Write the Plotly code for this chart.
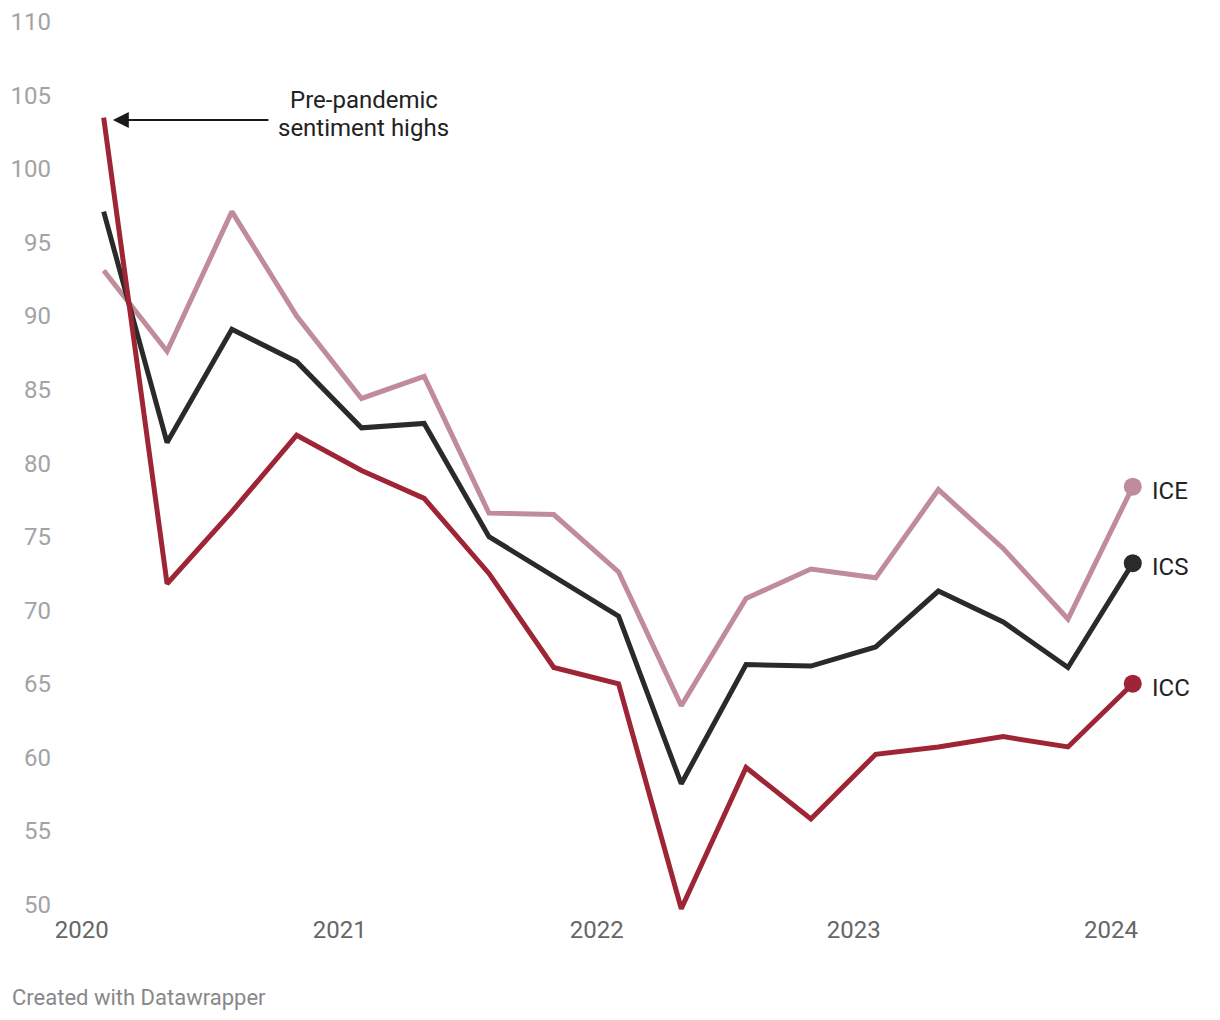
import plotly.graph_objects as go

dates = ["2020-02-01", "2020-05-01", "2020-08-01", "2020-11-01",
         "2021-02-01", "2021-05-01", "2021-08-01", "2021-11-01",
         "2022-02-01", "2022-05-01", "2022-08-01", "2022-11-01",
         "2023-02-01", "2023-05-01", "2023-08-01", "2023-11-01",
         "2024-02-01"]

ice = [93.1, 87.6, 97.1, 90.0, 84.4, 85.9, 76.6, 76.5, 72.6, 63.5,
       70.8, 72.8, 72.2, 78.2, 74.2, 69.4, 78.4]
ics = [97.1, 81.4, 89.1, 86.9, 82.4, 82.7, 75.0, 72.3, 69.6, 58.2,
       66.3, 66.2, 67.5, 71.3, 69.2, 66.1, 73.2]
icc = [103.5, 71.8, 76.7, 81.9, 79.5, 77.6, 72.5, 66.1, 65.0, 49.7,
       59.3, 55.8, 60.2, 60.7, 61.4, 60.7, 65.0]

series = [("ICE", ice, "#c08b9b"), ("ICS", ics, "#2a2a28"), ("ICC", icc, "#9e2535")]

y_ticks = list(range(50, 111, 5))
x_ticks = ["2020-01-01", "2021-01-01", "2022-01-01", "2023-01-01", "2024-01-01"]
x_tick_labels = ["2020", "2021", "2022", "2023", "2024"]

note_lines = ["Pre-pandemic", "sentiment highs"]

FONT = "Roboto"

fig = go.Figure()
for name, vals, col in series:
    fig.add_trace(go.Scatter(
        x=dates, y=vals, mode="lines", name=name,
        line=dict(color=col, width=5), cliponaxis=False,
        hoverinfo="x+y"))
    fig.add_trace(go.Scatter(
        x=[dates[-1]], y=[vals[-1]], mode="markers",
        marker=dict(color=col, size=18), cliponaxis=False,
        showlegend=False, hoverinfo="skip"))
    fig.add_annotation(
        x=dates[-1], y=vals[-1], xref="x", yref="y", text=name,
        showarrow=False, xanchor="left", yanchor="middle",
        xshift=17, yshift=-4,
        font=dict(family=FONT, size=24, color="#222222"))

fig.add_annotation(
    x="2020-02-14", y=103.33, ax="2020-09-24", ay=103.33,
    xref="x", yref="y", axref="x", ayref="y",
    text="", showarrow=True, arrowhead=2, arrowsize=1.6, arrowwidth=2,
    arrowcolor="#1a1a1a")
for line_text, yv in zip(note_lines, [104.69, 102.79]):
    fig.add_annotation(
        x="2021-02-04", y=yv, xref="x", yref="y",
        text=line_text, showarrow=False,
        font=dict(family=FONT, size=24, color="#222222"),
        xanchor="center", yanchor="middle")

fig.add_annotation(
    x=-0.0451, y=-0.086, xref="paper", yref="paper",
    xanchor="left", yanchor="middle",
    text="Created with Datawrapper", showarrow=False,
    font=dict(family=FONT, size=22, color="#888888"))

fig.update_layout(
    width=1212, height=1012,
    margin=dict(l=52, r=52, t=0, b=101),
    plot_bgcolor="white", paper_bgcolor="white",
    showlegend=False,
    font=dict(family=FONT),
    xaxis=dict(type="date", range=["2019-12-01", "2024-03-22"],
               tickvals=x_ticks, ticktext=x_tick_labels,
               showgrid=False, zeroline=False, showline=False, ticks="",
               tickfont=dict(family=FONT, size=24, color="#666666"),
               ticklabelstandoff=-6),
    yaxis=dict(range=[49, 110.95], tickvals=y_ticks,
               showgrid=False, zeroline=False, showline=False, ticks="",
               tickfont=dict(family=FONT, size=24, color="#a3a3a3"),
               ticklabelstandoff=8),
)

fig.write_html("out.html")
